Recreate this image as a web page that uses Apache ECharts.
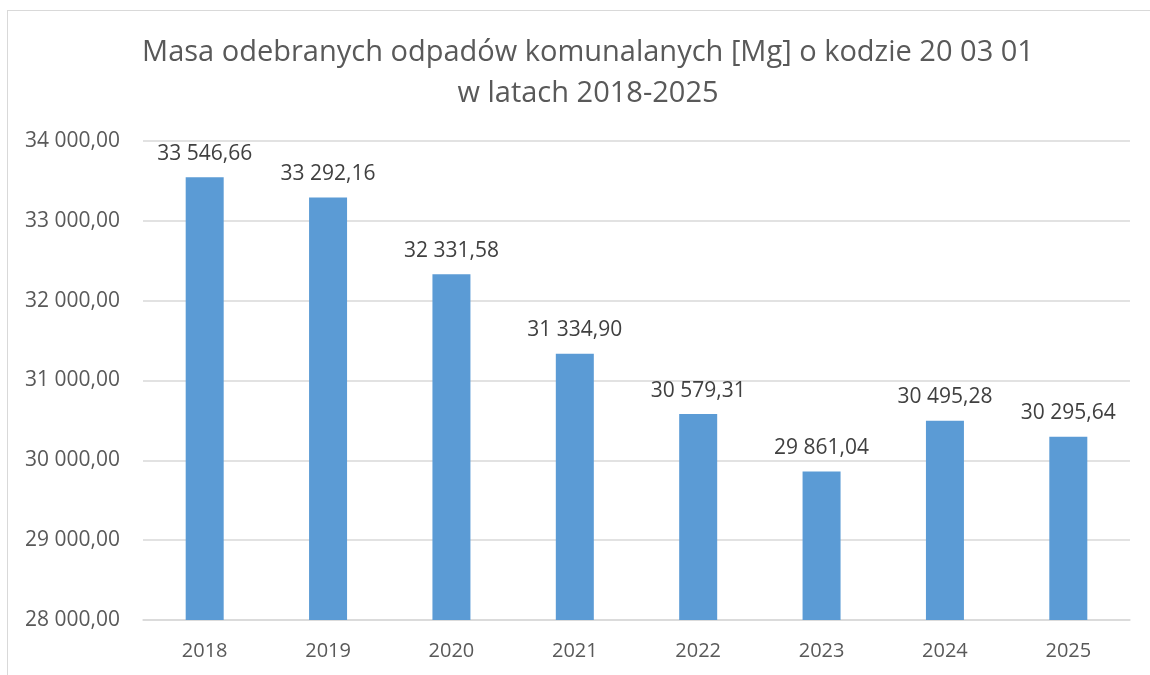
<!DOCTYPE html>
<html>
<head>
<meta charset="utf-8">
<script src="https://cdn.jsdelivr.net/npm/echarts@6/dist/echarts.min.js"></script>
<style>
  html, body { margin: 0; padding: 0; background: #fff; }
  #frame {
    position: absolute; left: 7px; top: 10px; width: 1143px; height: 665px;
    border-left: 1px solid #d9d9d9; border-top: 1px solid #d9d9d9;
  }
  #chart { position: absolute; left: 0; top: 0; width: 1150px; height: 675px; }
</style>
</head>
<body>
<div id="frame"></div>
<div id="chart"></div>
<script>
// dane z wykresu
const years = ["2018", "2019", "2020", "2021", "2022", "2023", "2024", "2025"];
const masses = [33546.66, 33292.16, 32331.58, 31334.9, 30579.31, 29861.04, 30495.28, 30295.64];
const titleLines = [
  "Masa odebranych odpadów komunalanych [Mg] o kodzie 20 03 01",
  "w latach 2018-2025",
];

// 33546.66 -> "33 546,66"
function plNum(v) {
  const parts = v.toFixed(2).split(".");
  return parts[0].replace(/\B(?=(\d{3})+(?!\d))/g, " ") + "," + parts[1];
}

const font = "'Open Sans', sans-serif";

const option = {
  backgroundColor: "transparent",
  animation: false,
  title: {
    text: titleLines.join("\n"),
    left: 583,
    textAlign: "center",
    top: 27,
    textStyle: {
      color: "#595959",
      fontSize: 29,
      fontWeight: "normal",
      fontFamily: font,
      lineHeight: 41,
    },
  },
  grid: {
    left: 143,
    right: 20,
    top: 141,
    bottom: 55,
  },
  xAxis: {
    type: "category",
    data: years,
    axisTick: { show: false },
    axisLine: { lineStyle: { color: "#d9d9d9", width: 1.5 } },
    axisLabel: {
      color: "#595959",
      fontSize: 20,
      fontFamily: font,
      margin: 21,
    },
  },
  yAxis: {
    type: "value",
    min: 28000,
    max: 34000,
    interval: 1000,
    axisLine: { show: false },
    axisTick: { show: false },
    splitLine: { lineStyle: { color: "#d9d9d9", width: 1.5 } },
    axisLabel: {
      color: "#595959",
      fontSize: 21,
      fontFamily: font,
      margin: 23,
      formatter: (v) => plNum(v),
    },
  },
  series: [
    {
      type: "bar",
      data: masses,
      barWidth: 38,
      itemStyle: { color: "#5b9bd5" },
      label: {
        show: true,
        position: "top",
        distance: 13,
        color: "#404040",
        fontSize: 21,
        fontFamily: font,
        formatter: (p) => plNum(p.value),
      },
    },
  ],
};

const chart = echarts.init(document.getElementById("chart"));
chart.setOption(option);
</script>
</body>
</html>
